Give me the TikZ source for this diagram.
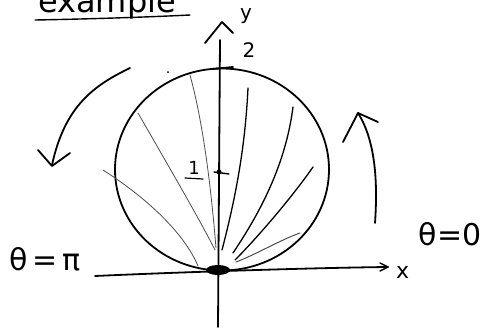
\documentclass[tikz,border=0pt]{standalone}
\usepackage{fontspec}
\setmainfont{DejaVu Sans}
\usetikzlibrary{arrows.meta}
\begin{document}
\begin{tikzpicture}[x=1pt,y=-1pt,line cap=round,line join=round,
  pen/.style={line width=1.8pt,black},
  thinpen/.style={line width=0.8pt,black!70},
  midpen/.style={line width=1.3pt,black},
  lbl/.style={inner sep=0pt,font=\fontsize{22}{24}\selectfont}]
\useasboundingbox (0,0) rectangle (490,327);
% title
\node[anchor=base west,inner sep=0pt,font=\fontsize{32}{34}\selectfont] (title) at (38,12) {example};
\draw[pen,line width=1.4pt] (35,20) .. controls (90,19) and (150,17) .. (190,15);
% axes
\coordinate (O) at (218,270);
\coordinate (xs) at (95,276);
\coordinate (xe) at (388,267);
\draw[pen] (xs) .. controls (160,273) and (300,268) .. (xe);
\draw[pen,line width=1.4pt] (380,263) -- (xe) -- (380,271);
\node[lbl,anchor=west] (xl) at (396,272) {x};
\coordinate (ys) at (218,327);
\coordinate (ye) at (220,40);
\draw[pen] (ys) -- (ye);
\draw[pen] (205,43) -- (222,22) -- (233,33);
\node[lbl,font=\fontsize{20}{22}\selectfont] (yl) at (246,16) {y};
\node[lbl,font=\fontsize{20}{22}\selectfont] (two) at (249,50) {2};
\draw[pen] (212,69) -- (233,67);
% circle
\draw[pen] (222,169.5) ellipse (107pt and 101pt);
% origin blob
\fill (O) ellipse (12pt and 5pt);
% center mark and label 1
\draw[pen,line width=1.4pt] (214,172) -- (229,174);
\fill (219,172) circle (2.5pt);
\node[lbl,font=\fontsize{18}{20}\selectfont] (one) at (194,168) {1};
\draw[pen,line width=1.2pt] (185,178) -- (203,179);
% radial lines left
\draw[thinpen] (103,170) .. controls (150,200) and (185,235) .. (198,266);
\draw[thinpen] (138,113) .. controls (165,160) and (200,220) .. (215,250);
\draw[thinpen] (190,75) .. controls (205,130) and (212,200) .. (216,248);
% radial lines right
\draw[midpen] (248,88) .. controls (245,150) and (235,200) .. (222,250);
\draw[midpen] (293,107) .. controls (285,170) and (255,220) .. (233,253);
\draw[midpen] (313,167) .. controls (290,200) and (255,240) .. (235,260);
\draw[thinpen,line width=1pt] (300,233) .. controls (280,240) and (255,255) .. (236,262);
% small dot
\fill (168,72) circle (1pt);
% rotation arrows
\draw[pen] (130,68) .. controls (95,85) and (65,105) .. (52,165);
\draw[pen] (38,150) -- (52,166) -- (70,153);
\draw[pen] (375,223) .. controls (378,180) and (375,140) .. (358,113);
\draw[pen] (343,142) -- (358,113) -- (378,122);
% labels
\node[lbl,font=\fontsize{30}{32}\selectfont] (tpi) at (45,259) {θ\,=\,π};
\node[lbl,font=\fontsize{30}{32}\selectfont] (tzero) at (450,234) {θ=0};
\end{tikzpicture}
\end{document}
